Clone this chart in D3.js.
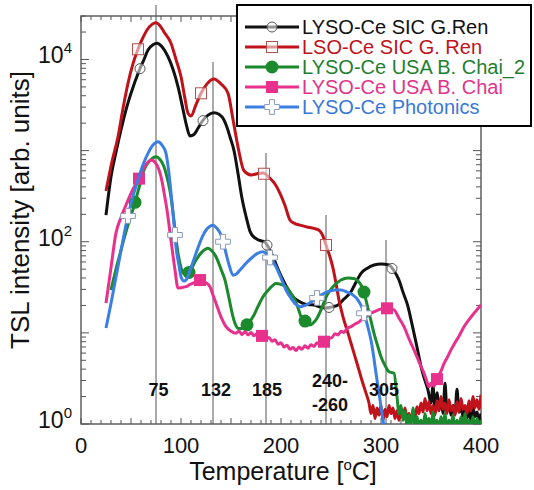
<!DOCTYPE html>
<html>
<head>
<meta charset="utf-8">
<script src="https://cdn.jsdelivr.net/npm/d3@7"></script>
<style>
  html, body { margin: 0; padding: 0; background: #fff; }
  svg { display: block; font-family: "Liberation Sans", Arial, sans-serif; }
</style>
</head>
<body>
<svg id="chart" width="534" height="490"></svg>
<script>
// TSL glow curves: [temperature °C, intensity (arb. units)]
const lysoSicRen = [
  [25,196],[30,517],[35,960],[40,1683],[45,2800],[50,4256],[58,7479],[63,10000],[67,12710],
  [72,14500],[76,15070],[81,13800],[87,10730],[92,7800],[97,5027],[101,3200],[105,1995],
  [109,1446],[113,1500],[117,1757],[121,2076],[127,2450],[133,2606],[138,2500],[143,2168],
  [146,1800],[149,1409],[153,1000],[157,560],[161,300],[165,190],[169,130],[174,110],
  [178,104],[184,99],[188,85],[192,68.4],[197,50],[202,38],[207,30],[212,24.9],[217,22.5],
  [222,21.1],[228,20.4],[233,20.2],[239,19.2],[245,18.7],[251,19.3],[257,20.2],[263,23.5],
  [270,28.3],[275,36],[280,45],[286,51],[293,55.5],[300,57],[308,55.5],[313,48],[318,38],
  [322,28],[327,19.4],[330,14],[333,9.9],[337,6.2],[340,4.25],[344,3.0],[347,2.36],
  [350,1.7],[352,2.6],[354,1.5],[356,2.2],[358,1.4],[360,1.9],[362,1.3],[364,2.8],[366,1.4],
  [368,1.7],[370,1.25],[372,1.6],[374,1.3],[376,2.4],[378,1.35],[380,1.55],[382,1.2],
  [384,1.5],[386,1.15],[388,1.4],[390,1.1],[392,1.5],[394,1.2],[396,1.35],[398,1.1],[400,1.3]
];
const lsoSicRen = [
  [25,361],[31,760],[37,1422],[42,2900],[47,5480],[52,9000],[56,12190],[61,16500],[66,21090],
  [71,24300],[75,25350],[79,23500],[83,20050],[90,15070],[95,10000],[100,6475],[104,3700],
  [107,2566],[110,2399],[115,3200],[120,4256],[126,5400],[133,6109],[140,5383],[147,4256],
  [152,2200],[157,1100],[163,600],[170,540],[177,560],[182,568],[189,497],[194,430],
  [199,340],[204,250],[209,173],[214,158],[219,152],[226,145],[233,140],[239,131],[242,115],
  [245,92],[249,68],[252,51.4],[255,35],[258,22.9],[262,15],[267,9.95],[272,6.5],[277,4.25],
  [281,3.0],[285,2.18],
  [288,1.7],[290,1.3],[292,1.6],[294,1.15],[296,1.5],[298,1.25],[300,1.6],[302,1.1],[304,1.45],
  [306,1.2],[308,1.6],[310,1.3],[312,1.5],[314,1.15],[316,1.4],[318,1.1],[320,1.35],[322,1.2],
  [324,1.5],[326,1.15],[328,1.3],[330,1.05],[332,1.4],[334,1.2],[336,1.55],[338,1.3],[340,1.7],
  [342,1.35],[344,1.9],[346,1.4],[348,1.75],[350,1.3],[352,1.6],[354,1.25],[356,1.8],[358,1.4],
  [360,2.0],[362,1.45],[364,1.7],[366,1.3],[368,1.85],[370,1.4],[372,1.6],[374,1.25],[376,1.75],
  [378,1.35],[380,1.9],[382,1.45],[384,1.6],[386,1.3],[388,1.8],[390,1.4],[392,2.0],[394,1.5],
  [396,1.85],[398,1.45],[400,2.1]
];
const lysoUsaChai2 = [
  [30,29.5],[35,50],[40,81],[46,140],[53,247],[58,390],[63,612],[69,780],[75,857],[79,800],
  [83,666],[87,460],[90,310],[92,210],[94,134],[97,75],[100,52],[102,45.3],[107,44.2],[111,52],
  [115,63],[120,75],[124,82],[127,84.7],[131,79],[135,68.4],[140,50],[144,38],[148,24],
  [152,15],[155,12],[157,11.2],[161,11.2],[165,11.9],[168,13],[172,15],[177,19.5],[182,24.9],
  [188,30],[195,34.9],[200,34],[205,32.1],[210,27],[214,22.9],[218,17.5],[220,15],[223,13.8],
  [226,12.8],[229,12.2],[232,12.8],[236,14.5],[241,19],[246,26],[252,32],[260,38],[267,40],
  [273,39.6],[277,37],[280,33.5],[283,28],[285,22.9],[289,15],[293,9.9],[297,7],[300,5.47],
  [304,4.4],[308,3.74],[313,3.6],
  [316,2.0],[318,1.3],[320,1.6],[322,1.1],[324,1.4],[326,0.95],[328,1.25],[330,1.0],[332,1.5],
  [334,0.9],[336,1.2],[338,0.95],[340,1.1],[342,0.9],[344,1.3],[346,1.0],[348,1.15],[350,0.9],
  [352,1.35],[354,0.95],[356,1.1],[358,0.9],[360,1.2],[362,0.95],[364,1.3],[366,0.9],[368,1.1],
  [370,0.95],[372,1.25],[374,0.9],[376,1.1],[378,0.92],[380,1.2],[382,0.95],[384,1.3],[386,0.9],
  [388,1.1],[390,0.93],[392,1.2],[394,0.9],[396,1.15],[398,0.95],[400,1.1]
];
const lysoUsaChai = [
  [25,21.2],[30,52],[35,125],[40,185],[45,253],[51,360],[57,467],[64,678],[70,788],[75,720],
  [80,517],[83,350],[86,223],[90,104],[94,48.9],[97,31],[101,31.5],[105,32.1],[109,34],
  [112,35.2],[116,36.5],[119,38],[124,36],[129,32.1],[132,26],[135,21.1],[140,15],[145,11.7],
  [150,10.4],[155,9.9],[158,10.5],[161,9.6],[164,10.3],[167,9.5],[170,10.1],[173,9.3],
  [176,9.8],[179,9.0],[182,9.4],[185,8.6],[188,8.9],[191,8.1],[194,8.4],[197,7.5],[200,7.8],
  [203,7.0],[206,7.3],[209,6.6],[212,6.9],[215,6.4],[218,7.0],[221,6.6],[224,7.2],[227,6.8],
  [230,7.4],[233,7.1],[236,7.8],[239,7.4],[242,8.1],[245,7.8],[248,8.7],[251,8.9],[254,9.8],
  [257,9.5],[260,10.4],[263,10.1],[266,11.2],[270,11.7],[274,12.5],[278,13.2],[282,14.3],
  [286,15.2],[290,16.4],[294,17.2],[298,18.0],[302,18.4],[306,18.6],[310,18.3],[313,17.9],
  [318,14.5],[323,11.7],[328,8.6],[333,6.5],[338,4.8],[343,3.6],[346,2.9],[348,2.56],
  [350,2.8],[353,2.6],[357,3.3],[360,3.8],[363,4.6],[366,5.3],[370,6.5],[374,7.8],[378,9.2],
  [383,11.7],[388,14],[393,16.4],[397,18.5],[400,20.2]
];
const lysoPhotonics = [
  [25,11.3],[30,21],[35,41],[40,80],[46,173],[51,290],[57,475],[62,700],[67,934],[72,1150],
  [77,1253],[81,1150],[85,934],[88,560],[91,266],[93,160],[95,88],[98,55],[100,41.3],[103,37],
  [105,38],[110,52],[115,74.6],[120,105],[125,134],[129,148],[132,152],[136,140],[140,118.5],
  [143,92],[145,74.6],[148,56],[152,43],[155,44],[159,48.9],[165,58],[172,68.4],[177,75],
  [182,77.6],[187,71.4],[191,63],[195,53.2],[200,40],[205,29.5],[210,24],[215,20.5],
  [219,19.4],[225,20.2],[233,22.9],[240,26],[247,28.3],[254,29.5],[260,29.5],[266,28],
  [272,26],[277,22.9],[280,20],[283,16.4],[287,11.5],[290,8.3],[293,5.2],[295,3.6],[298,2.2],
  [300,1.55],[302,1.1],[304,0.8]
];

// temperatures where each curve carries a symbol
const marksBlack = [59, 122, 186, 248, 311];
const marksRed = [57, 120, 183, 245];
const marksGreen = [54, 108, 166, 224, 283];
const marksPink = [58, 119, 181, 243, 306, 356];
const marksBlue = [47, 94, 142, 189, 236, 283];

const seriesNames = [
  "LYSO-Ce SIC G.Ren",
  "LSO-Ce SIC G. Ren",
  "LYSO-Ce USA B. Chai_2",
  "LYSO-Ce USA B. Chai",
  "LYSO-Ce Photonics"
];

// peak temperatures marked by guide lines
const peakTemps = [75, 132, 185, 245, 305];
const peakLabels = [["75"], ["132"], ["185"], ["240-", "-260"], ["305"]];

const xTickValues = [0, 100, 200, 300, 400];
const yTickExponents = [0, 2, 4];

// ---------------------------------------------------------------
const svg = d3.select("#chart");
const plotLeft = 81, plotRight = 481, plotTop = 16, plotBottom = 424;

const x = d3.scaleLinear().domain([0, 400]).range([plotLeft, plotRight]);
const y = d3.scaleLog().domain([1, 30000]).range([plotBottom, plotTop]);

const styles = [
  { color: "#111111", text: "#111111", data: lysoSicRen, marks: marksBlack, shape: "circleOpen" },
  { color: "#c0121a", text: "#c0121a", data: lsoSicRen, marks: marksRed, shape: "squareOpen" },
  { color: "#1b8a2c", text: "#1f7f2f", data: lysoUsaChai2, marks: marksGreen, shape: "circleFilled" },
  { color: "#e8318d", text: "#e0358b", data: lysoUsaChai, marks: marksPink, shape: "squareFilled" },
  { color: "#3b7fe2", text: "#3a78d8", data: lysoPhotonics, marks: marksBlue, shape: "plusOpen" }
];

svg.append("defs").append("clipPath").attr("id", "plotClip")
  .append("rect").attr("x", plotLeft).attr("y", plotTop)
  .attr("width", plotRight - plotLeft).attr("height", plotBottom - plotTop);

// guide lines at the peak temperatures
const guideTop = [5, 62, 153, 215, 240];
svg.append("g").selectAll("line").data(peakTemps).join("line")
  .attr("x1", d => x(d)).attr("x2", d => x(d))
  .attr("y1", (d, i) => guideTop[i]).attr("y2", plotBottom)
  .attr("stroke", "#555").attr("stroke-width", 1);

// axis frame and ticks
const frame = svg.append("g").attr("stroke", "#555").attr("stroke-width", 1.4).attr("fill", "none");
frame.append("rect").attr("x", plotLeft).attr("y", plotTop)
  .attr("width", plotRight - plotLeft).attr("height", plotBottom - plotTop);

d3.range(0, 401, 10).forEach(t => {
  const len = t % 50 === 0 ? 6 : 4;
  frame.append("line").attr("x1", x(t)).attr("x2", x(t)).attr("y1", plotBottom).attr("y2", plotBottom - len).attr("stroke-width", 1);
  frame.append("line").attr("x1", x(t)).attr("x2", x(t)).attr("y1", plotTop).attr("y2", plotTop + len).attr("stroke-width", 1);
});
const yTickVals = [];
for (let d = 0; d <= 4; d++) for (let k = 1; k <= 9; k++) {
  const v = k * Math.pow(10, d);
  if (v <= 30000) yTickVals.push({ v, major: k === 1 });
}
yTickVals.forEach(t => {
  const len = t.major ? 8 : 5;
  frame.append("line").attr("x1", plotLeft).attr("x2", plotLeft + len).attr("y1", y(t.v)).attr("y2", y(t.v)).attr("stroke-width", 1);
  frame.append("line").attr("x1", plotRight).attr("x2", plotRight - len).attr("y1", y(t.v)).attr("y2", y(t.v)).attr("stroke-width", 1);
});

// tick labels
svg.append("g").selectAll("text").data(xTickValues).join("text")
  .attr("x", d => x(d)).attr("y", 453).attr("text-anchor", "middle")
  .attr("font-size", 22).attr("fill", "#111").text(d => d);

const yLab = svg.append("g").selectAll("text").data(yTickExponents).join("text")
  .attr("x", 72).attr("y", d => y(Math.pow(10, d)) + 4).attr("text-anchor", "end")
  .attr("font-size", 23).attr("fill", "#111");
yLab.append("tspan").text("10");
yLab.append("tspan").attr("dy", -10).attr("font-size", 15).text(d => d);

// axis titles
const xt = svg.append("text").attr("x", 283).attr("y", 480).attr("text-anchor", "middle")
  .attr("font-size", 25).attr("fill", "#111");
xt.append("tspan").text("Temperature [");
xt.append("tspan").attr("dy", -10).attr("font-size", 15).text("o");
xt.append("tspan").attr("dy", 10).text("C]");

svg.append("text").attr("transform", "translate(29,210) rotate(-90)")
  .attr("text-anchor", "middle").attr("font-size", 26).attr("fill", "#111")
  .text("TSL intensity [arb. units]");

// curves
const line = d3.line().x(d => x(d[0])).y(d => y(d[1])).curve(d3.curveMonotoneX);

function valueAt(data, t) {
  for (let i = 1; i < data.length; i++) {
    if (data[i][0] >= t) {
      const [t0, v0] = data[i - 1], [t1, v1] = data[i];
      const f = (t - t0) / (t1 - t0);
      return Math.pow(10, Math.log10(v0) + f * (Math.log10(v1) - Math.log10(v0)));
    }
  }
  return data[data.length - 1][1];
}

function drawMarker(g, shape, color, cx, cy) {
  if (shape === "circleOpen") {
    g.append("circle").attr("cx", cx).attr("cy", cy).attr("r", 5)
      .attr("fill", "#fff").attr("fill-opacity", 0.55).attr("stroke", "#555").attr("stroke-width", 1);
  } else if (shape === "squareOpen") {
    g.append("rect").attr("x", cx - 5.5).attr("y", cy - 5.5).attr("width", 11).attr("height", 11)
      .attr("fill", "#fff").attr("fill-opacity", 0.55).attr("stroke", "#b05050").attr("stroke-width", 1);
  } else if (shape === "circleFilled") {
    g.append("circle").attr("cx", cx).attr("cy", cy).attr("r", 6.5).attr("fill", color);
  } else if (shape === "squareFilled") {
    g.append("rect").attr("x", cx - 6).attr("y", cy - 6).attr("width", 12).attr("height", 12).attr("fill", color);
  } else if (shape === "plusOpen") {
    g.append("path").attr("transform", `translate(${cx},${cy})`)
      .attr("d", d3.symbol(d3.symbolCross, 120)())
      .attr("fill", "#fff").attr("stroke", "#8a9ab8").attr("stroke-width", 1);
  }
}

const plot = svg.append("g").attr("clip-path", "url(#plotClip)");
styles.forEach(s => {
  plot.append("path").datum(s.data).attr("d", line)
    .attr("fill", "none").attr("stroke", s.color).attr("stroke-width", 3)
    .attr("stroke-linejoin", "round");
  s.marks.forEach(t => drawMarker(plot, s.shape, s.color, x(t), y(valueAt(s.data, t))));
});

// peak labels
const labelNudge = [2.5, 3, 1, 4, -2];
peakTemps.forEach((t, i) => {
  const lines = peakLabels[i];
  lines.forEach((txt, j) => {
    svg.append("text").attr("x", x(t) + labelNudge[i])
      .attr("y", lines.length > 1 ? 387 + j * 24 : 396)
      .attr("text-anchor", "middle").attr("font-size", 18).attr("font-weight", "bold")
      .attr("fill", "#111").text(txt);
  });
});

// legend
const lg = svg.append("g");
lg.append("rect").attr("x", 237).attr("y", 5).attr("width", 294).attr("height", 121)
  .attr("fill", "#fff").attr("stroke", "#000").attr("stroke-width", 2);
styles.forEach((s, i) => {
  const ly = 27 + i * 20;
  lg.append("line").attr("x1", 245).attr("x2", 299).attr("y1", ly).attr("y2", ly)
    .attr("stroke", s.color).attr("stroke-width", 3);
  drawMarker(lg, s.shape, s.color, 272, ly);
  lg.append("text").attr("x", 302).attr("y", ly + 7).attr("font-size", 20)
    .attr("fill", s.text).text(seriesNames[i]);
});
</script>
</body>
</html>
